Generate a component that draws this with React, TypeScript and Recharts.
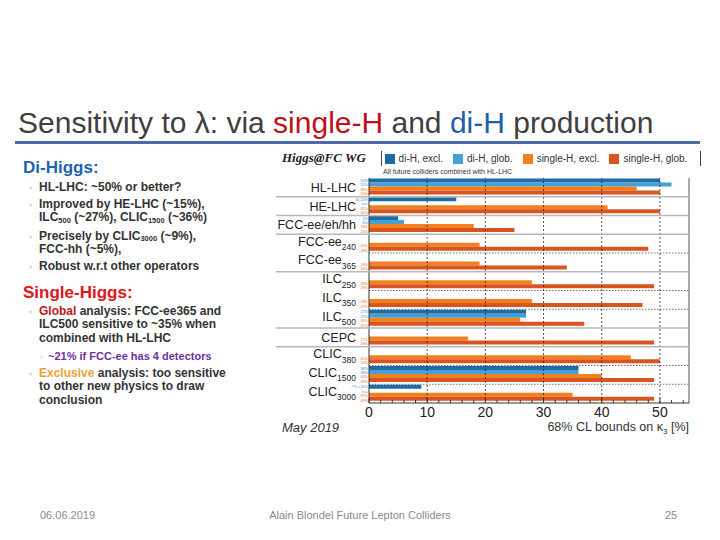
import React from 'react';
import { BarChart, Bar, XAxis, YAxis, ReferenceLine, Legend } from 'recharts';

// colliders, top to bottom
const colliderKeys = ['HL-LHC', 'HE-LHC', 'FCC-ee/eh/hh', 'FCC-ee240', 'FCC-ee365', 'ILC250', 'ILC350', 'ILC500', 'CEPC', 'CLIC380', 'CLIC1500', 'CLIC3000'];
const colliderNames = ['HL-LHC', 'HE-LHC', 'FCC-ee/eh/hh', 'FCC-ee', 'FCC-ee', 'ILC', 'ILC', 'ILC', 'CEPC', 'CLIC', 'CLIC', 'CLIC'];
const colliderSubs = ['', '', '', '240', '365', '250', '350', '500', '', '380', '1500', '3000'];
const colliderGroups = ['HL-LHC', 'HE-LHC', 'FCC', 'FCC-ee', 'FCC-ee', 'ILC', 'ILC', 'ILC', 'CEPC', 'CLIC', 'CLIC', 'CLIC'];

// 68% CL bounds on kappa_3 [%]
const diHExcl = [50, 15, 5, null, null, null, null, 27, null, null, 36, 9];
const diHGlob = [52, null, 6, null, null, null, null, 27, null, null, 36, null];
const singleHExcl = [46, 41, 18, 19, 19, 28, 28, 26, 17, 45, 40, 35];
const singleHGlob = [50, 50, 25, 48, 34, 49, 47, 37, 49, 50, 49, 49];

// the tiny numbers printed next to each bar
const diHExclLbl = ['50%', '10-20%', '5%', '', '', '', '', '27%', '', '', '36%', '-7%-+11%'];
const diHGlobLbl = ['52%', 'n.a.', '6%', '', '', '', '', '27%', '', '', '36%', 'n.a.'];
const singleHExclLbl = ['46%', '41%', '18%', '19%', '19%', '28%', '28%', '26%', '17%', '45%', '40%', '35%'];
const singleHGlobLbl = ['50%', '50%', '25%', '48%', '34%', '49%', '47%', '37%', '49%', '50%', '49%', '49%'];

const xMax = 55;
const xTickLabels = [0, 10, 20, 30, 40, 50];
const xMinorTicks = [0, 2, 4, 6, 8, 10, 12, 14, 16, 18, 20, 22, 24, 26, 28, 30, 32, 34, 36, 38, 40, 42, 44, 46, 48, 50, 52, 54];
const gridLines = [10, 20, 30, 40, 50];

const data = colliderKeys.map((key, i) => ({
  key,
  diHExcl: diHExcl[i],
  diHGlob: diHGlob[i],
  singleHExcl: singleHExcl[i],
  singleHGlob: singleHGlob[i],
}));

const SANS = '"Liberation Sans", Arial, sans-serif';
const PLOT_W = 320;
const PLOT_H = 225;
const ROW_H = PLOT_H / colliderKeys.length;
const CAT_GAP = 0.6;

const RowTick = (props: any) => {
  const { x, y, payload } = props;
  const i = colliderKeys.indexOf(payload.value);
  const half = ROW_H / 2;
  const slot = (ROW_H - 2 * CAT_GAP) / 4;
  const lbls = [diHExclLbl[i], diHGlobLbl[i], singleHExclLbl[i], singleHGlobLbl[i]];
  const sub = colliderSubs[i];
  const last = i === colliderKeys.length - 1;
  const newGroup = !last && colliderGroups[i] !== colliderGroups[i + 1];
  return (
    <g>
      {!last && newGroup && (
        <line x1={x - 93} x2={x + PLOT_W} y1={y + half} y2={y + half} stroke="#b8b8b8" strokeWidth={1.4} />
      )}
      {!last && !newGroup && (
        <line x1={x} x2={x + PLOT_W} y1={y + half} y2={y + half} stroke="#333" strokeWidth={0.7} strokeDasharray="1.5 1.5" />
      )}
      <text x={x - 13} y={sub ? y + 2 : y + 4.5} textAnchor="end" fontSize={12.5} fill="#222" fontFamily={SANS}>
        {colliderNames[i]}
        {sub ? <tspan fontSize={8.5} dy={4.5}>{sub}</tspan> : null}
      </text>
      {lbls.map((t, k) =>
        t ? (
          <text key={k} x={x - 1} y={y - half + CAT_GAP + (k + 0.5) * slot + 1.3} textAnchor="end" fontSize={3.8}
            fill={k < 2 ? '#3a8cc8' : '#e8702a'} fontFamily={SANS}>
            {t}
          </text>
        ) : null
      )}
    </g>
  );
};

const XTick = (props: any) => {
  const { x, y, payload } = props;
  const major = xTickLabels.includes(payload.value);
  return (
    <g>
      <line x1={x} x2={x} y1={y} y2={y - (major ? 5 : 3)} stroke="#333" />
      {major && (
        <text x={x} y={y + 14} textAnchor="middle" fontSize={14} fill="#222" fontFamily={SANS}>
          {payload.value}
        </text>
      )}
    </g>
  );
};

const XTickTop = (props: any) => {
  const { x, y, payload } = props;
  const major = xTickLabels.includes(payload.value);
  return <line x1={x} x2={x} y1={y} y2={y + (major ? 5 : 3)} stroke="#333" />;
};

const AxisTitle = (props: any) => {
  const vb = props.viewBox;
  return (
    <text x={vb.x + vb.width} y={vb.y + 28} textAnchor="end" fontSize={12.5} fill="#333" fontFamily={SANS}>
      68% CL bounds on κ<tspan fontSize={8} dy={3}>3</tspan>
      <tspan dy={-3}> [%]</tspan>
    </text>
  );
};

const bodyColor = '#333';

export default function App() {
  return (
    <div style={{ position: 'absolute', left: 0, top: 0, width: 720, height: 540, background: '#fff', fontFamily: SANS }}>
      <svg width={720} height={540} style={{ position: 'absolute', left: 0, top: 0 }}>
        <text x={18} y={133} fontSize={30} fill="#404040" fontFamily={SANS}>
          Sensitivity to λ: via{' '}
          <tspan fill="#c0101a">single-H</tspan>
          {' '}and{' '}
          <tspan fill="#1f5fa8">di-H</tspan>
          {' '}production
        </text>
        <rect x={15} y={141} width={685} height={3} fill="#4a6aa8" />

        <g fontFamily={SANS} fontWeight="bold" fill={bodyColor}>
          <text x={23} y={173} fontSize={17} fill="#1c64b0">Di-Higgs:</text>
          <text x={29} y={190.5} fontSize={9} fill="#888">◦</text>
          <text x={39} y={190.5} fontSize={12}>HL-LHC: ~50% or better?</text>
          <text x={29} y={207.5} fontSize={9} fill="#888">◦</text>
          <text x={39} y={207.5} fontSize={12}>Improved by HE-LHC (~15%),</text>
          <text x={39} y={221} fontSize={12}>
            ILC<tspan fontSize={7.5} dy={1.5}>500</tspan><tspan dy={-1.5}> (~27%), CLIC</tspan>
            <tspan fontSize={7.5} dy={1.5}>1500</tspan><tspan dy={-1.5}> (~36%)</tspan>
          </text>
          <text x={29} y={239.5} fontSize={9} fill="#888">◦</text>
          <text x={39} y={239.5} fontSize={12}>
            Precisely by CLIC<tspan fontSize={7.5} dy={1.5}>3000</tspan><tspan dy={-1.5}> (~9%),</tspan>
          </text>
          <text x={39} y={253} fontSize={12}>FCC-hh (~5%),</text>
          <text x={29} y={270} fontSize={9} fill="#888">◦</text>
          <text x={39} y={270} fontSize={12}>Robust w.r.t other operators</text>

          <text x={23} y={298} fontSize={17} fill="#e0151b">Single-Higgs:</text>
          <text x={29} y={314.5} fontSize={9} fill="#888">◦</text>
          <text x={39} y={314.5} fontSize={12}>
            <tspan fill="#c0141c">Global</tspan> analysis: FCC-ee365 and
          </text>
          <text x={39} y={328} fontSize={12}>ILC500 sensitive to ~35% when</text>
          <text x={39} y={341.5} fontSize={12}>combined with HL-LHC</text>
          <text x={40} y={359.5} fontSize={8} fill="#888">◦</text>
          <text x={48} y={359.5} fontSize={11} fill="#7030a0">~21% if FCC-ee has 4 detectors</text>
          <text x={29} y={376.5} fontSize={9} fill="#888">◦</text>
          <text x={39} y={376.5} fontSize={12}>
            <tspan fill="#eea236">Exclusive</tspan> analysis: too sensitive
          </text>
          <text x={39} y={390} fontSize={12}>to other new physics to draw</text>
          <text x={39} y={403.5} fontSize={12}>conclusion</text>
        </g>

        <text x={282} y={161.5} fontSize={13} fontStyle="italic" fontWeight="bold" fill="#222" fontFamily='"Liberation Serif", "Times New Roman", serif'>
          Higgs@FC WG
        </text>
        <text x={383} y={173.5} fontSize={7} fill="#333" fontFamily={SANS}>All future colliders combined with HL-LHC</text>
        <text x={282} y={432} fontSize={13} fontStyle="italic" fill="#333" fontFamily={SANS}>May 2019</text>

        <g fontFamily={SANS} fontSize={11} fill="#8a8a8a">
          <text x={40} y={519}>06.06.2019</text>
          <text x={360} y={519} textAnchor="middle">Alain Blondel Future Lepton Colliders</text>
          <text x={671} y={519} textAnchor="middle">25</text>
        </g>
      </svg>

      <div style={{ position: 'absolute', left: 270, top: 170 }}>
        <BarChart
          width={430}
          height={270}
          data={data}
          layout="vertical"
          margin={{ top: 8, right: 11, left: 0, bottom: 7 }}
          barGap={0}
          barCategoryGap={CAT_GAP}
        >
          <XAxis
            type="number"
            domain={[0, xMax]}
            ticks={xMinorTicks}
            interval={0}
            allowDataOverflow
            height={30}
            tickSize={0}
            tickMargin={0}
            tickLine={false}
            tick={(p: any) => <XTick {...p} />}
            axisLine={{ stroke: '#333' }}
            label={(p: any) => <AxisTitle {...p} />}
          />
          <XAxis
            xAxisId="top"
            orientation="top"
            type="number"
            domain={[0, xMax]}
            ticks={xMinorTicks}
            interval={0}
            height={0}
            tickSize={0}
            tickMargin={0}
            tickLine={false}
            tick={(p: any) => <XTickTop {...p} />}
            axisLine={{ stroke: '#333' }}
          />
          <YAxis
            type="category"
            dataKey="key"
            width={99}
            interval={0}
            tickSize={0}
            tickMargin={0}
            tickLine={false}
            axisLine={{ stroke: '#333' }}
            tick={(p: any) => <RowTick {...p} />}
          />
          <Legend
            verticalAlign="middle"
            align="center"
            layout="horizontal"
            iconType="square"
            iconSize={10}
            formatter={(v: any) => <span style={{ color: '#333' }}>{v}</span>}
            wrapperStyle={{
              left: 111,
              top: -19,
              width: 318,
              height: 15,
              fontSize: 10,
              lineHeight: '15px',
              whiteSpace: 'nowrap',
              borderLeft: '1px solid #444',
              borderRight: '1px solid #444',
              fontFamily: SANS,
            }}
          />
          {gridLines.map((g) => (
            <ReferenceLine key={g} x={g} stroke="#222" strokeWidth={0.8} strokeDasharray="2 2" />
          ))}
          <ReferenceLine x={xMax} stroke="#555" strokeWidth={1} />
          <Bar dataKey="diHExcl" name="di-H, excl." fill="#1d6ca5" isAnimationActive={false} />
          <Bar dataKey="diHGlob" name="di-H, glob." fill="#45a0d8" isAnimationActive={false} />
          <Bar dataKey="singleHExcl" name="single-H, excl." fill="#f47f1f" isAnimationActive={false} />
          <Bar dataKey="singleHGlob" name="single-H, glob." fill="#d9541e" isAnimationActive={false} />
        </BarChart>
      </div>
    </div>
  );
}
